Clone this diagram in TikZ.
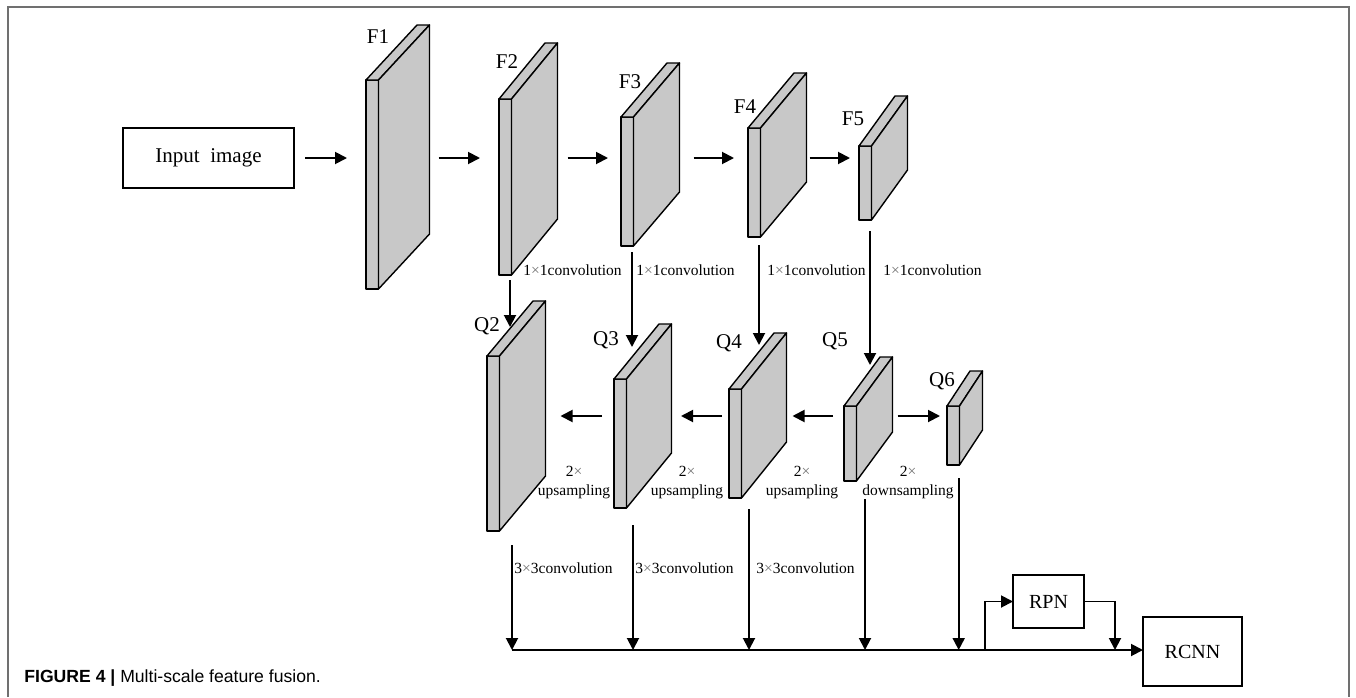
\documentclass[tikz,border=0pt]{standalone}
\usepackage{fontspec}
\setmainfont{Liberation Serif}
\newfontfamily\capfont{Liberation Sans}
\usetikzlibrary{arrows.meta}
\definecolor{slabgray}{RGB}{200,200,200}
\definecolor{framegray}{RGB}{112,112,112}
\tikzset{
  arr/.style={line width=0.95pt, -{Triangle[length=6pt,width=6pt]}},
  face/.style={draw=black, fill=slabgray, line width=0.7pt, line join=round},
  strip/.style={face, minimum width=6.25pt, inner sep=0pt, outer sep=0pt},
  box/.style={draw, line width=1.3pt, inner sep=0pt, outer sep=0pt},
  lbl/.style={font=\fontsize{10.5}{12}\selectfont, inner sep=0pt},
  conv/.style={font=\fontsize{7.75}{9.5}\selectfont, anchor=west, inner sep=0pt},
  samp/.style={font=\fontsize{7.75}{9.5}\selectfont, align=center, inner sep=0pt},
  capt/.style={font=\capfont\fontsize{8.8}{10.5}\selectfont, anchor=west, inner sep=0pt}
}
% feature slab: name, x, top, height, depth dx, depth dy
\newcommand{\slab}[6]{%
  \node[strip, minimum height=#4*0.5pt, anchor=north west] (#1) at (#2,#3) {};
  \draw[face] (#1.north west) -- ++(#5,#6) -- ++(12.5,0) -- (#1.north east) -- cycle;
  \draw[face] (#1.north east) -- ++(#5,#6) -- ++(0,#4) -- (#1.south east) -- cycle;
  \path (#1.north east) ++(#5,#6) coordinate (#1-r);
  \path (#1.center) ++(#5/2,#6/2) coordinate (#1-c);
}
\newcommand{\crs}{{\color{black!55}×}}
\begin{document}
\begin{tikzpicture}[x=0.5pt,y=-0.5pt]
\useasboundingbox (0,0) rectangle (1356,697);
\draw[framegray, line width=0.9pt] (8,697) -- (8,7) -- (1349,7) -- (1349,697);

% top row
\node[box, minimum width=85.5pt, minimum height=30pt, font=\fontsize{10.5}{12}\selectfont] (inp) at (208.5,158) {Input\ \ image};
\slab{f1}{366}{80}{209}{51}{-55}
\slab{f2}{499}{99}{176}{46}{-56}
\slab{f3}{621}{117}{129}{46}{-54}
\slab{f4}{748}{128}{109}{46}{-55}
\slab{f5}{859}{146}{74}{36}{-50}
\node[lbl] (lf1) at (378,37) {F1};
\node[lbl] (lf2) at (507,62) {F2};
\node[lbl] (lf3) at (630,82) {F3};
\node[lbl] (lf4) at (745,107) {F4};
\node[lbl] (lf5) at (853,119) {F5};
\draw[arr, shorten <=5.5pt, shorten >=9.5pt] (inp.east) -- (inp.east -| f1.west);
\foreach \a/\b/\ga/\gb in {f1-r/f2.west/4.5/9.5, f2-r/f3.west/5/6.5, f3-r/f4.west/7/7, f4-r/f5.west/1.5/4.5}
  \draw[arr, shorten <=\ga pt, shorten >=\gb pt] (inp.east -| \a) -- (inp.east -| \b);

% middle row
\slab{q2}{487}{356}{175}{46}{-55}
\slab{q3}{614}{379}{129}{45}{-55}
\slab{q4}{729}{389}{109}{45}{-56}
\slab{q5}{844}{406}{75}{36}{-49}
\slab{q6}{947}{406}{59}{23}{-35}
\node[lbl] (lq2) at (487,326) {Q2};
\node[lbl] (lq3) at (606,340) {Q3};
\node[lbl] (lq4) at (729,343) {Q4};
\node[lbl] (lq5) at (835,341) {Q5};
\node[lbl] (lq6) at (942,381) {Q6};
\foreach \a/\b/\ga/\gb in {q3.west/q2-r/6/7.5, q4.west/q3-r/3.5/4.75, q5.west/q4-r/5.5/3, q5-r/q6.west/2.5/3.5}
  \draw[arr, shorten <=\ga pt, shorten >=\gb pt] (q3-c -| \a) -- (q3-c -| \b);

% 1x1 convolutions
\foreach \a/\b/\ga/\gb in {f2/q2/2.5/14.5, f3/q3/3/16, f4/q4/4/22, f5/q5/5.5/20.5}
  \draw[arr, shorten <=\ga pt, shorten >=\gb pt] ([xshift=-0.75pt]\a.south east) -- ([xshift=-0.75pt]\a.south east |- \b.north);
\node[conv] (c1) at (523,270) {1\crs1convolution};
\node[conv] (c2) at (636,270) {1\crs1convolution};
\node[conv] (c3) at (767,270) {1\crs1convolution};
\node[conv] (c4) at (883,270) {1\crs1convolution};
\node[samp] (s1) at (574,482.5) {2\crs\\upsampling};
\node[samp] (s2) at (687,482.5) {2\crs\\upsampling};
\node[samp] (s3) at (802,482.5) {2\crs\\upsampling};
\node[samp] (s4) at (908,482.5) {2\crs\\downsampling};

% bottom: fusion
\node[box, minimum width=35.5pt, minimum height=26.5pt, font=\fontsize{10}{12}\selectfont] (rpn) at (1048.5,601.5) {RPN};
\node[box, minimum width=49.5pt, minimum height=34.5pt, font=\fontsize{10}{12}\selectfont] (rcnn) at (1192.5,651.5) {RCNN};
\coordinate (bus) at (512,650);
\coordinate (split) at (985,650);
\coordinate (merge) at (1115,650);
\foreach \q/\dx/\ga in {q2/6.25/7, q3/3.25/8.5, q4/3.75/5.5, q5/4.25/9, q6/-0.4/6.5}
  \draw[arr, shorten <=\ga pt] ([xshift=\dx pt]\q.south east) -- ([xshift=\dx pt]\q.south east |- bus);
\node[conv] (d1) at (514,568) {3\crs3convolution};
\node[conv] (d2) at (635,568) {3\crs3convolution};
\node[conv] (d3) at (756,568) {3\crs3convolution};
\draw[arr] (bus) -- (bus -| rcnn.west);
\draw[arr] (split) |- (rpn.west);
\draw[arr] (rpn.east) -| (merge);

\node[capt] (cap) at (24,678) {\textbf{FIGURE 4 |} Multi-scale feature fusion.};
\end{tikzpicture}
\end{document}
